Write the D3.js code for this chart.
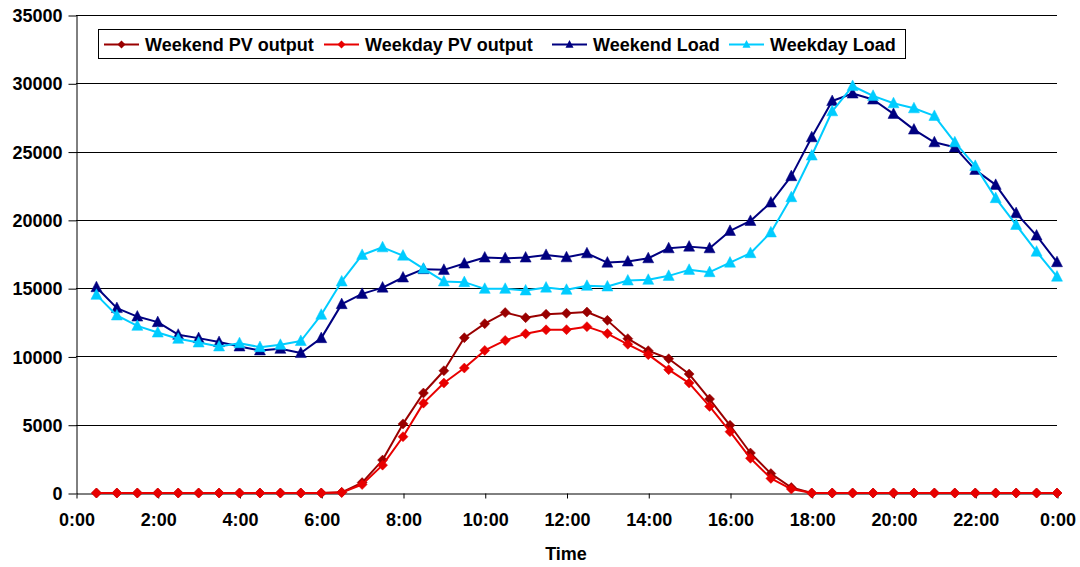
<!DOCTYPE html>
<html>
<head>
<meta charset="utf-8">
<script src="https://cdn.jsdelivr.net/npm/d3@7/dist/d3.min.js"></script>
<style>
  html, body { margin: 0; padding: 0; background: #fff; }
  svg { display: block; font-family: "Liberation Sans", Arial, sans-serif; }
</style>
</head>
<body>
<svg id="chart" width="1080" height="567"></svg>
<script>
// Time of day in hours (0:30 ... 24:00)
const hours = d3.range(1, 49).map(i => i / 2);

const weekendPV = [
  0,0,0,0,0,0,0,0,0,0,0,0,
  50,760,2410,5060,7320,8950,11370,12400,13210,12840,13090,13160,
  13250,12640,11300,10420,9830,8710,6880,4960,2930,1420,400,0,
  0,0,0,0,0,0,0,0,0,0,0,0
];
const weekdayPV = [
  0,0,0,0,0,0,0,0,0,0,0,0,
  30,620,2040,4120,6580,8050,9150,10440,11170,11660,11950,11960,
  12180,11670,10890,10130,9030,8050,6340,4490,2540,1070,290,0,
  0,0,0,0,0,0,0,0,0,0,0,0
];
const weekendLoad = [
  15070,13540,12920,12510,11590,11340,11050,10730,10440,10560,10250,11340,
  13830,14580,15040,15780,16390,16340,16800,17240,17190,17240,17430,17260,
  17550,16870,16950,17190,17920,18040,17920,19190,19920,21270,23200,26050,
  28700,29250,28810,27760,26610,25680,25310,23660,22560,20490,18850,16900
];
const weekdayLoad = [
  14510,13000,12240,11750,11290,11020,10730,10970,10680,10850,11130,13050,
  15490,17430,17990,17380,16430,15490,15440,14950,14950,14830,15040,14880,
  15170,15120,15560,15610,15900,16340,16170,16870,17560,19080,21660,24710,
  27950,29800,29080,28540,28170,27610,25680,23950,21590,19630,17670,15840
];

const seriesNames = ["Weekend PV output", "Weekday PV output", "Weekend Load", "Weekday Load"];
const seriesColors = ["#990000", "#E80000", "#000080", "#00CCFF"];
const seriesMarkers = ["diamond", "diamond", "triangle", "triangle"];
const seriesValues = [weekendPV, weekdayPV, weekendLoad, weekdayLoad];

const xTicks = d3.range(0, 25, 2);
const xTickLabels = xTicks.map(h => (h % 24) + ":00");
const yTicks = d3.range(0, 35001, 5000);
const xTitle = "Time";

const svg = d3.select("#chart");
const pLeft = 76, pRight = 1057, pTop = 15, pBottom = 493;

const x = d3.scaleLinear().domain([0, 24]).range([pLeft, pRight]);
const y = d3.scaleLinear().domain([0, 35000]).range([pBottom, pTop]);

// gridlines
svg.append("g")
  .selectAll("line")
  .data(yTicks.filter(v => v > 0))
  .join("line")
  .attr("x1", pLeft).attr("x2", pRight)
  .attr("y1", d => Math.round(y(d)) + 0.5).attr("y2", d => Math.round(y(d)) + 0.5)
  .attr("stroke", "#000").attr("stroke-width", 1);

// y axis
const yAxis = d3.axisLeft(y).tickValues(yTicks).tickSize(8).tickSizeOuter(0).tickPadding(6)
  .tickFormat(d => String(d));
const gy = svg.append("g").attr("transform", `translate(${pLeft + 0.5},0.5)`).call(yAxis);
gy.select(".domain").attr("stroke", "#000").attr("stroke-width", 1);
gy.selectAll(".tick line").attr("stroke", "#000");
gy.selectAll("text").attr("font-size", 18).attr("font-weight", "bold").attr("fill", "#000")
  .attr("font-family", "'Liberation Sans', Arial, sans-serif").attr("dy", "0.34em");

// x axis
const xAxis = d3.axisBottom(x).tickValues(xTicks).tickSize(5).tickSizeOuter(0).tickPadding(15)
  .tickFormat((d, i) => xTickLabels[i]);
const gx = svg.append("g").attr("transform", `translate(0.5,${pBottom + 0.5})`).call(xAxis);
gx.select(".domain").attr("stroke", "#000");
gx.selectAll(".tick line").attr("stroke", "#000");
gx.selectAll("text").attr("font-size", 18).attr("font-weight", "bold").attr("fill", "#000")
  .attr("font-family", "'Liberation Sans', Arial, sans-serif");

svg.append("text")
  .attr("x", 566).attr("y", 560)
  .attr("text-anchor", "middle")
  .attr("font-size", 18).attr("font-weight", "bold")
  .text(xTitle);

// markers
function markerPath(type, s) {
  if (type === "diamond") {
    return `M0,${-s}L${s},0L0,${s}L${-s},0Z`;
  }
  const h = s * 1.1;
  return `M0,${-h}L${s},${h * 0.75}L${-s},${h * 0.75}Z`;
}

const line = d3.line().x((d, i) => x(hours[i])).y(d => y(d));

seriesValues.forEach((vals, si) => {
  const g = svg.append("g");
  g.append("path")
    .attr("d", line(vals))
    .attr("fill", "none")
    .attr("stroke", seriesColors[si])
    .attr("stroke-width", 2)
    .attr("stroke-linejoin", "round");
  g.selectAll("path.m")
    .data(vals)
    .join("path")
    .attr("class", "m")
    .attr("transform", (d, i) => `translate(${x(hours[i])},${y(d)})`)
    .attr("d", markerPath(seriesMarkers[si], seriesMarkers[si] === "diamond" ? 5 : 5.5))
    .attr("fill", seriesColors[si])
    .attr("stroke", seriesColors[si])
    .attr("stroke-width", 0.5);
});

// legend
const legend = svg.append("g");
legend.append("rect")
  .attr("x", 98.5).attr("y", 29.5).attr("width", 807).attr("height", 29)
  .attr("fill", "#fff").attr("stroke", "#000").attr("stroke-width", 1);
const itemX = [104, 324, 552, 729];
seriesNames.forEach((name, si) => {
  const gx0 = itemX[si];
  const cy = 44.5;
  legend.append("line")
    .attr("x1", gx0).attr("x2", gx0 + 35).attr("y1", cy).attr("y2", cy)
    .attr("stroke", seriesColors[si]).attr("stroke-width", 2);
  legend.append("path")
    .attr("transform", `translate(${gx0 + 17.5},${cy})`)
    .attr("d", markerPath(seriesMarkers[si], 4))
    .attr("fill", seriesColors[si]);
  legend.append("text")
    .attr("x", gx0 + 41).attr("y", cy + 6.5)
    .attr("font-size", 18).attr("font-weight", "bold")
    .text(name);
});
</script>
</body>
</html>
